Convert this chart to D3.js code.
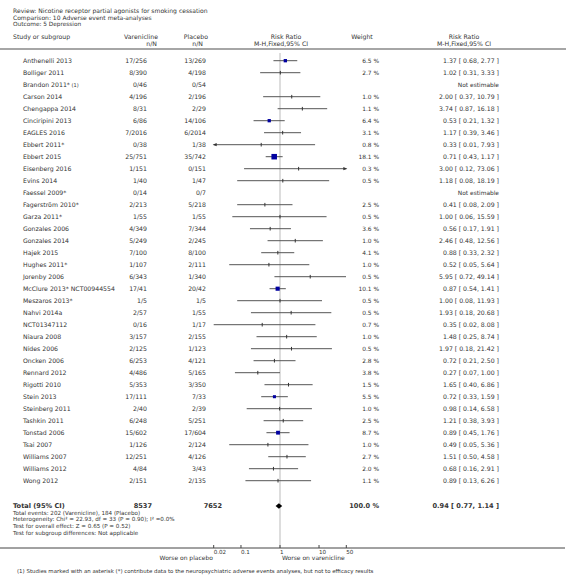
<!DOCTYPE html>
<html><head><meta charset="utf-8">
<script src="https://cdn.jsdelivr.net/npm/d3@7"></script>
<style>body{margin:0;background:#fff}svg{display:block}text{font-family:"DejaVu Sans",Verdana,sans-serif;fill:#333}</style>
</head><body>
<script>
const studies = ["Anthenelli 2013","Bolliger 2011","Brandon 2011* (1)","Carson 2014","Chengappa 2014","Cinciripini 2013","EAGLES 2016","Ebbert 2011*","Ebbert 2015","Eisenberg 2016","Evins 2014","Faessel 2009*","Fagerström 2010*","Garza 2011*","Gonzales 2006","Gonzales 2014","Hajek 2015","Hughes 2011*","Jorenby 2006","McClure 2013* NCT00944554","Meszaros 2013*","Nahvi 2014a","NCT01347112","Niaura 2008","Nides 2006","Oncken 2006","Rennard 2012","Rigotti 2010","Stein 2013","Steinberg 2011","Tashkin 2011","Tonstad 2006","Tsai 2007","Williams 2007","Williams 2012","Wong 2012"];
const vareniclineNN = ["17/256","8/390","0/46","4/196","8/31","6/86","7/2016","0/38","25/751","1/151","1/40","0/14","2/213","1/55","4/349","5/249","7/100","1/107","6/343","17/41","1/5","2/57","0/16","3/157","2/125","6/253","4/486","5/353","17/111","2/40","6/248","15/602","1/126","12/251","4/84","2/151"];
const placeboNN = ["13/269","4/198","0/54","2/196","2/29","14/106","6/2014","1/38","35/742","0/151","1/47","0/7","5/218","1/55","7/344","2/245","8/100","2/111","1/340","20/42","1/5","1/55","1/17","2/155","1/123","4/121","5/165","3/350","7/33","2/39","5/251","17/604","2/124","4/126","3/43","2/135"];
const weights = [6.5,2.7,null,1.0,1.1,6.4,3.1,0.8,18.1,0.3,0.5,null,2.5,0.5,3.6,1.0,4.1,1.0,0.5,10.1,0.5,0.5,0.7,1.0,0.5,2.8,3.8,1.5,5.5,1.0,2.5,8.7,1.0,2.7,2.0,1.1];
const rr = [1.37,1.02,null,2.00,3.74,0.53,1.17,0.33,0.71,3.00,1.18,null,0.41,1.00,0.56,2.46,0.88,0.52,5.95,0.87,1.00,1.93,0.35,1.48,1.97,0.72,0.27,1.65,0.72,0.98,1.21,0.89,0.49,1.51,0.68,0.89];
const ciLow = [0.68,0.31,null,0.37,0.87,0.21,0.39,0.01,0.43,0.12,0.08,null,0.08,0.06,0.17,0.48,0.33,0.05,0.72,0.54,0.08,0.18,0.02,0.25,0.18,0.21,0.07,0.40,0.33,0.14,0.38,0.45,0.05,0.50,0.16,0.13];
const ciHigh = [2.77,3.33,null,10.79,16.18,1.32,3.46,7.93,1.17,73.06,18.19,null,2.09,15.59,1.91,12.56,2.32,5.64,49.14,1.41,11.93,20.68,8.08,8.74,21.42,2.50,1.00,6.86,1.59,6.58,3.93,1.76,5.36,4.58,2.91,6.26];
const totalN = ["8537","7652"];
const totalWeight = "100.0 %";
const totalRR = [0.94, 0.77, 1.14];
const axisTicks = [0.02, 0.1, 1, 10, 50];
const summaryLines = ["Total events: 202 (Varenicline), 184 (Placebo)","Heterogeneity: Chi² = 22.93, df = 33 (P = 0.90); I² =0.0%","Test for overall effect: Z = 0.65 (P = 0.52)","Test for subgroup differences: Not applicable"];
const headerLines = ["Review:  Nicotine receptor partial agonists for smoking cessation","Comparison:  10 Adverse event meta-analyses","Outcome:  5 Depression"];
const footnote = "(1) Studies marked with an asterisk (*) contribute data to the neuropsychiatric adverse events analyses, but not to efficacy results";

const W=566,H=577;
const svg=d3.select("body").append("svg").attr("width",W).attr("height",H);
const fmt=d3.format(".2f");
const x=d3.scaleLog().domain([0.02,50]).range([213.7,346.3]);
const y=d3.scalePoint().domain(d3.range(studies.length)).range([60.7,480.7]);
const FS=6.2;
function txt(s,xx,yy,anchor,size,bold){
  return svg.append("text").attr("x",xx).attr("y",yy).attr("dy","0.35em")
   .attr("text-anchor",anchor||"start").attr("font-size",size||FS)
   .attr("font-weight",bold?"bold":null).text(s);
}
// header
const hdrSize=[6.05,6.0,5.8];
headerLines.forEach((s,i)=>txt(s,13,11+i*6.65,"start",hdrSize[i]));
txt("Study or subgroup",13,37);
txt("Varenicline",158,37,"end");
txt("n/N",157,43.5,"end");
txt("Placebo",208,37,"end");
txt("n/N",203,43.5,"end");
txt("Risk Ratio",286,37,"middle");
txt("M-H,Fixed,95% CI",281,43.5,"middle");
txt("Weight",362,37,"middle");
txt("Risk Ratio",464,37,"middle");
txt("M-H,Fixed,95% CI",464,43.5,"middle");
svg.append("line").attr("x1",0).attr("x2",566).attr("y1",49).attr("y2",49).attr("stroke","#888").attr("stroke-width",1.5);

// reference line
svg.append("line").attr("x1",x(1)).attr("x2",x(1)).attr("y1",53).attr("y2",548).attr("stroke","#ddd").attr("stroke-width",2);

// rows
studies.forEach((s,i)=>{
  const yy=y(i);
  if(s.endsWith(" (1)")){
    const t=txt(s.replace(" (1)",""),23,yy);
    t.append("tspan").attr("font-size",5).text(" (1)");
  } else txt(s,23,yy);
  txt(vareniclineNN[i],147,yy,"end");
  txt(placeboNN[i],206,yy,"end");
  if(rr[i]==null){
    txt("Not estimable",499,yy,"end",5.9).attr("fill","#111");
    return;
  }
  txt(weights[i].toFixed(1)+" %",379,yy,"end",5.9);
  txt(fmt(rr[i])+" [ "+fmt(ciLow[i])+", "+fmt(ciHigh[i])+" ]",499,yy,"end");
  const lo=Math.max(ciLow[i],0.02), hi=Math.min(ciHigh[i],50);
  svg.append("line").attr("x1",x(lo)).attr("x2",x(hi)).attr("y1",yy).attr("y2",yy).attr("stroke","#555").attr("stroke-width",1);
  if(ciLow[i]<0.02){
    const a=x(0.02);
    svg.append("path").attr("d",`M${a-1},${yy}L${a+3},${yy-1.6}L${a+3},${yy+1.6}Z`).attr("fill","#333");
  }
  if(ciHigh[i]>50){
    const a=x(50);
    svg.append("path").attr("d",`M${a+1},${yy}L${a-3},${yy-1.6}L${a-3},${yy+1.6}Z`).attr("fill","#333");
  }
  const side=1.3*Math.sqrt(weights[i]);
  if(side<2.9){
    svg.append("line").attr("x1",x(rr[i])).attr("x2",x(rr[i])).attr("y1",yy-1.8).attr("y2",yy+1.8).attr("stroke","#333").attr("stroke-width",1);
  } else {
    svg.append("rect").attr("x",x(rr[i])-side/2).attr("y",yy-side/2).attr("width",side).attr("height",side).attr("fill","#0000a0");
  }
});

// total
const ty=506, BS=6.6;
txt("Total (95% CI)",13,ty,"start",BS,true).attr("fill","#000");
txt(totalN[0],152,ty,"end",BS,true).attr("fill","#000");
txt(totalN[1],222,ty,"end",BS,true).attr("fill","#000");
txt(totalWeight,379,ty,"end",BS,true).attr("fill","#000");
txt(fmt(totalRR[0])+" [ "+fmt(totalRR[1])+", "+fmt(totalRR[2])+" ]",499,ty,"end",BS,true).attr("fill","#000");
svg.append("path").attr("d",`M${x(totalRR[1])},${ty}L${x(totalRR[0])},${ty-2.8}L${x(totalRR[2])},${ty}L${x(totalRR[0])},${ty+2.8}Z`).attr("fill","#000");
summaryLines.forEach((s,i)=>txt(s,13,512.7+i*6.7,"start",5.6));

// axis
const ay=548;
svg.append("line").attr("x1",0).attr("x2",565).attr("y1",ay).attr("y2",ay).attr("stroke","#444").attr("stroke-width",1);
axisTicks.forEach(t=>{
  svg.append("line").attr("x1",x(t)).attr("x2",x(t)).attr("y1",ay-3).attr("y2",ay).attr("stroke","#444");
  txt(String(t),x(t),552.5,"start",5.6);
});
txt("Worse on placebo",213,558,"end",6.0);
txt("Worse on varenicline",282,558,"start",6.0);
txt(footnote,17,570.7,"start",5.45);
</script>
</body></html>
